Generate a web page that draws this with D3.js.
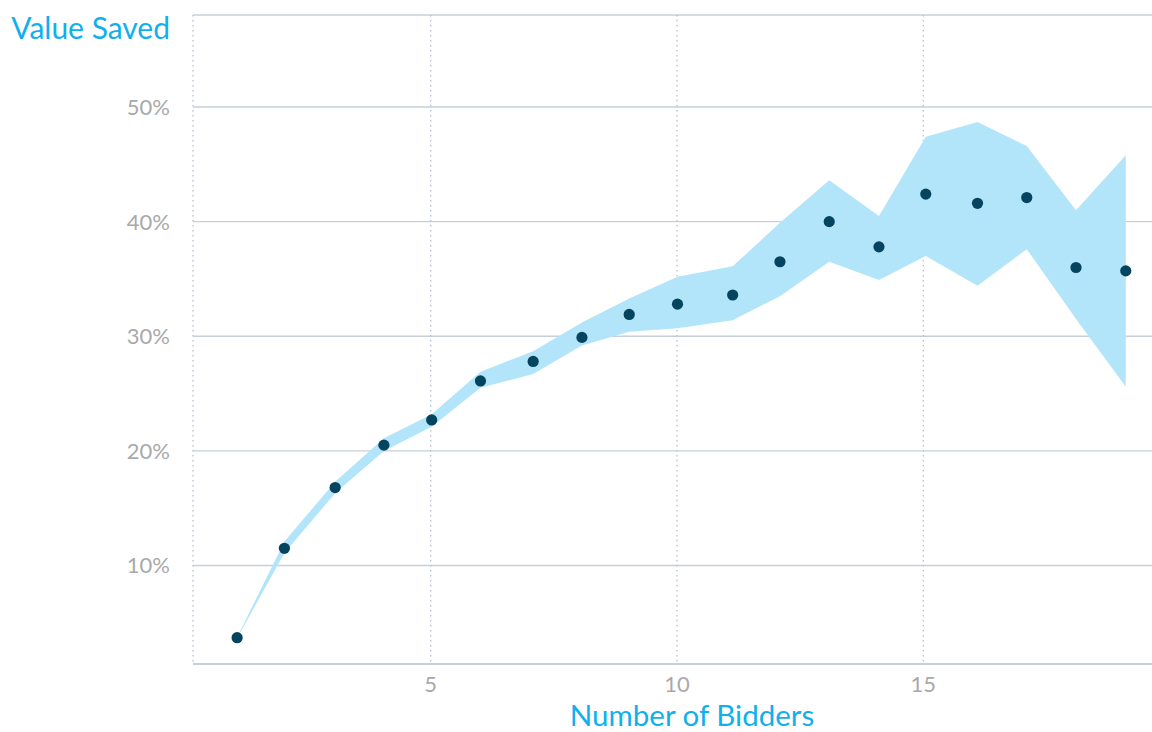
<!DOCTYPE html>
<html>
<head>
<meta charset="utf-8">
<title>Value Saved</title>
<script src="https://cdnjs.cloudflare.com/ajax/libs/d3/7.8.5/d3.min.js"></script>
<style>
*{ margin: 0; padding: 0; }
body{ background: #fff; }
svg{ display: block; font-family: Lato, "Open Sans", sans-serif; }
</style>
</head>
<body>
<script>

// average number of bidders per group
var bidders = [1.07, 2.03, 3.06, 4.05, 5.02, 6.01, 7.08, 8.07, 9.03, 10.01,
               11.13, 12.09, 13.09, 14.10, 15.05, 16.10, 17.10, 18.10, 19.11];
// value saved (%)
var saved = [3.7, 11.5, 16.8, 20.5, 22.7, 26.1, 27.8, 29.9, 31.9, 32.8,
             33.6, 36.5, 40.0, 37.8, 42.4, 41.6, 42.1, 36.0, 35.7];
// confidence band
var upper = [3.75, 12.1, 17.3, 21.1, 23.2, 26.9, 28.7, 31.2, 33.3, 35.2,
             36.1, 39.9, 43.6, 40.5, 47.4, 48.7, 46.6, 41.0, 45.8];
var lower = [3.65, 11.1, 16.3, 20.0, 22.1, 25.5, 26.7, 29.2, 30.4, 30.7,
             31.4, 33.5, 36.5, 34.9, 37.0, 34.4, 37.6, 31.5, 25.6];

var xTicks = [5, 10, 15];
var yTicks = [10, 20, 30, 40, 50];

var width = 1152;
var height = 732;
// plot frame (note: "top" is taken by window.top)
var pLeft = 193, pRight = 1152, pTop = 15, pBottom = 664;

var svg = d3.select("body")
			.append("svg")
			.attr("width", width)
			.attr("height", height);

var x = d3.scaleLinear().domain([5, 15]).range([430.7, 923.3]);
var y = d3.scaleLinear().domain([10, 50]).range([565.5, 107]);

var data = bidders.map((b, i) => ({x: b, v: saved[i], hi: upper[i], lo: lower[i]}));

// horizontal grid lines
svg.append("g")
	.selectAll("line").data(yTicks).enter().append("line")
	.attr("x1", pLeft).attr("x2", pRight)
	.attr("y1", d => y(d)).attr("y2", d => y(d))
	.attr("stroke", "#c7cfdb").attr("stroke-width", 1.3);

// top frame line
svg.append("line")
	.attr("x1", pLeft).attr("x2", pRight).attr("y1", pTop).attr("y2", pTop)
	.attr("stroke", "#c7cfdb").attr("stroke-width", 1.3);

// vertical dotted lines
svg.append("g")
	.selectAll("line").data(xTicks).enter().append("line")
	.attr("x1", d => x(d)).attr("x2", d => x(d))
	.attr("y1", pTop).attr("y2", pBottom)
	.attr("stroke", "#b3c0d3").attr("stroke-width", 1.3)
	.attr("stroke-dasharray", "1.5,3.5");

svg.append("line")
	.attr("x1", pLeft).attr("x2", pLeft).attr("y1", pTop).attr("y2", pBottom)
	.attr("stroke", "#b3c0d3").attr("stroke-width", 1.3)
	.attr("stroke-dasharray", "1.5,3.5");

// band
var area = d3.area()
	.x(d => x(d.x))
	.y0(d => y(d.lo))
	.y1(d => y(d.hi));

svg.append("path")
	.datum(data)
	.attr("d", area)
	.attr("fill", "#b3e5fa");

// bottom axis line
svg.append("line")
	.attr("x1", pLeft).attr("x2", pRight).attr("y1", pBottom).attr("y2", pBottom)
	.attr("stroke", "#b1c1d6").attr("stroke-width", 1.5);

// points
svg.append("g")
	.selectAll("circle").data(data).enter().append("circle")
	.attr("cx", d => x(d.x))
	.attr("cy", d => y(d.v))
	.attr("r", 5.6)
	.attr("fill", "#05445f");

// tick labels
svg.append("g")
	.selectAll("text").data(yTicks).enter().append("text")
	.attr("x", 170)
	.attr("y", d => y(d))
	.attr("dy", "0.36em")
	.attr("text-anchor", "end")
	.attr("font-size", 22)
	.attr("fill", "#a9a9ab")
	.text(d => d + "%");

svg.append("g")
	.selectAll("text").data(xTicks).enter().append("text")
	.attr("x", d => x(d))
	.attr("y", 692)
	.attr("text-anchor", "middle")
	.attr("font-size", 22)
	.attr("fill", "#a9a9ab")
	.text(d => d);

// titles
svg.append("text")
	.attr("x", 170).attr("y", 39)
	.attr("text-anchor", "end")
	.attr("font-size", 30)
	.attr("fill", "#0fb0ec")
	.text("Value Saved");

svg.append("text")
	.attr("x", 692).attr("y", 726)
	.attr("text-anchor", "middle")
	.attr("font-size", 29.5)
	.attr("fill", "#0fb0ec")
	.text("Number of Bidders");

</script>
</body>
</html>
